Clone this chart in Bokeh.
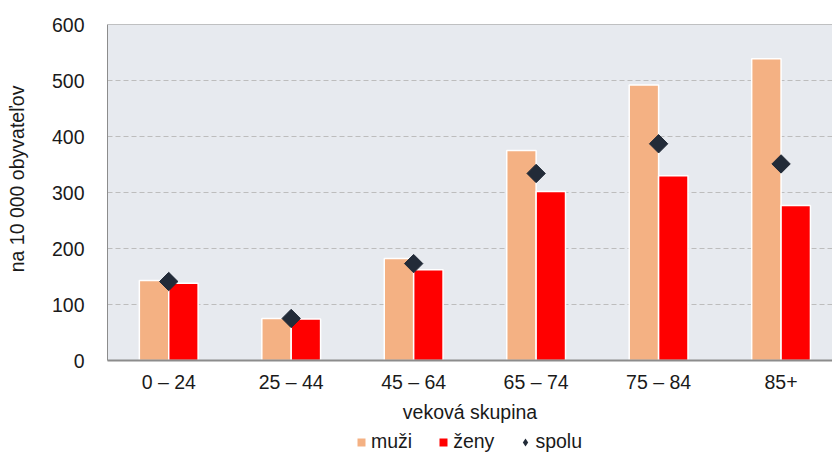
import math
from bokeh.plotting import figure
from bokeh.layouts import column
from bokeh.models import Range1d, FixedTicker, Legend, LegendItem, Span, ColumnDataSource
from bokeh.embed import file_html
from bokeh.resources import INLINE

groups = ["0 – 24", "25 – 44", "45 – 64", "65 – 74", "75 – 84", "85+"]
muzi = [143, 75, 182, 375, 492, 539]
zeny = [138, 74, 162, 302, 330, 277]
spolu = [141, 75, 173, 334, 387, 351]
y_ticks = [0, 100, 200, 300, 400, 500, 600]

C_MUZI = "#f4b183"
C_ZENY = "#ff0000"
C_SPOLU = "#222b38"
FONT = "Liberation Sans"
FS = "19.5px"
TXT = "#1a1a1a"

xc = [i + 0.5 for i in range(len(groups))]
src = ColumnDataSource(dict(
    xm=[x - 0.12 for x in xc],
    xz=[x + 0.12 for x in xc],
    xc=xc,
    muzi=muzi, zeny=zeny, spolu=spolu,
))

fig = figure(width=832, height=431, output_backend="svg", toolbar_location=None,
             x_range=Range1d(0, 5.92), y_range=Range1d(0, 600),
             min_border_left=107, min_border_right=0, min_border_top=24,
             min_border_bottom=71)
fig.background_fill_color = "#e7eaef"
fig.border_fill_color = "white"
fig.outline_line_color = None

fig.vbar(x="xm", top="muzi", width=0.24, source=src, fill_color=C_MUZI,
         line_color="white", line_width=1.5)
fig.vbar(x="xz", top="zeny", width=0.24, source=src, fill_color=C_ZENY,
         line_color="white", line_width=1.5)
fig.scatter(x="xc", y="spolu", source=src, marker="square", angle=math.pi / 4,
            size=13, fill_color=C_SPOLU, line_color=C_SPOLU)

fig.add_layout(Span(location=600, dimension="width", line_color="#8c8c8c", line_width=1))

# axes
fig.xaxis.ticker = FixedTicker(ticks=xc)
fig.xaxis.major_label_overrides = {x: g for x, g in zip(xc, groups)}
fig.yaxis.ticker = FixedTicker(ticks=y_ticks)
for ax in (fig.xaxis[0], fig.yaxis[0]):
    ax.major_tick_line_color = None
    ax.minor_tick_line_color = None
    ax.major_label_text_font = FONT
    ax.major_label_text_font_size = FS
    ax.major_label_text_color = TXT
    ax.axis_label_text_font = FONT
    ax.axis_label_text_font_size = FS
    ax.axis_label_text_font_style = "normal"
    ax.axis_label_text_color = TXT
    ax.axis_line_color = "#8c8c8c"
fig.xaxis.axis_line_width = 2
fig.yaxis.axis_line_width = 1
fig.xaxis.axis_label = "veková skupina"
fig.yaxis.axis_label = "\u00a0" * 5 + "na 10 000 obyvateľov"
fig.xaxis.major_label_standoff = 4
fig.xaxis.axis_label_standoff = 5
fig.yaxis.major_label_standoff = 17
fig.yaxis.axis_label_standoff = 21

fig.xgrid.grid_line_color = None
fig.ygrid.grid_line_color = "#bdbdbd"
fig.ygrid.grid_line_dash = "5 3"
fig.ygrid.grid_line_width = 1

# legend strip below the chart
leg = figure(width=832, height=22, output_backend="svg", toolbar_location=None,
             x_range=Range1d(0, 1), y_range=Range1d(0, 1),
             x_axis_location=None, y_axis_location=None,
             min_border_left=0, min_border_right=0, min_border_top=0,
             min_border_bottom=0)
leg.outline_line_color = None
leg.background_fill_color = "white"
leg.border_fill_color = "white"
leg.grid.visible = False

nan = float("nan")
lm = leg.scatter(x=[nan], y=[nan], marker="square", fill_color=C_MUZI, line_color=None)
lz = leg.scatter(x=[nan], y=[nan], marker="square", fill_color=C_ZENY, line_color=None)
ls = leg.scatter(x=[nan], y=[nan], marker="diamond", fill_color=C_SPOLU, line_color=None)
legend = Legend(items=[LegendItem(label="muži", renderers=[lm]),
                       LegendItem(label="ženy", renderers=[lz]),
                       LegendItem(label="spolu", renderers=[ls])],
                orientation="horizontal", location=(244, 0),
                glyph_width=20, glyph_height=20, label_standoff=0, spacing=21,
                padding=0, margin=0, border_line_color=None,
                background_fill_alpha=0,
                label_text_font=FONT, label_text_font_size=FS, label_text_color=TXT)
leg.add_layout(legend, "center")

p = column(fig, leg, spacing=0)

open("out.html", "w").write(file_html(p, INLINE))
